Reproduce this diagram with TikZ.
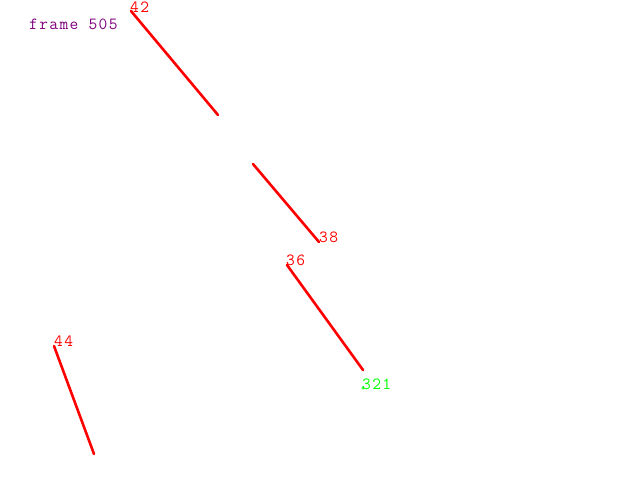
\documentclass[tikz,border=0pt]{standalone}
\usepackage{fontspec}
\setmonofont[LetterSpace=8]{Latin Modern Mono}
\definecolor{framepurple}{RGB}{128,0,128}
\definecolor{brightgreen}{RGB}{0,255,0}
\begin{document}
\begin{tikzpicture}[x=1bp,y=-1bp,
  seg/.style={draw=red,line width=2.6bp,line cap=round},
  lbl/.style={anchor=base west,inner sep=0pt,font=\ttfamily\fontsize{17bp}{19bp}\selectfont},
]
\useasboundingbox[fill=white] (0,0) rectangle (640,480);
\coordinate (a1) at (131,11);  \coordinate (a2) at (218,115);
\coordinate (b1) at (253,164); \coordinate (b2) at (319,242);
\coordinate (c1) at (287,265); \coordinate (c2) at (363,370);
\coordinate (d1) at (54,346);  \coordinate (d2) at (94,454);
\draw[seg] (a1) -- (a2);
\draw[seg] (b1) -- (b2);
\draw[seg] (c1) -- (c2);
\draw[seg] (d1) -- (d2);
\node[lbl,text=framepurple] (fr) at (29,30) {frame 505};
\node[lbl,text=red] (l42) at (130,12.5) {42};
\node[lbl,text=red] (l38) at (319,243) {38};
\node[lbl,text=red] (l36) at (286,265) {36};
\node[lbl,text=red] (l44) at (54,346) {44};
\node[lbl,text=brightgreen] (l321) at (362,389) {321};
\draw[draw=brightgreen,line width=0.6bp] (363,388) circle (1.3);
\end{tikzpicture}
\end{document}
